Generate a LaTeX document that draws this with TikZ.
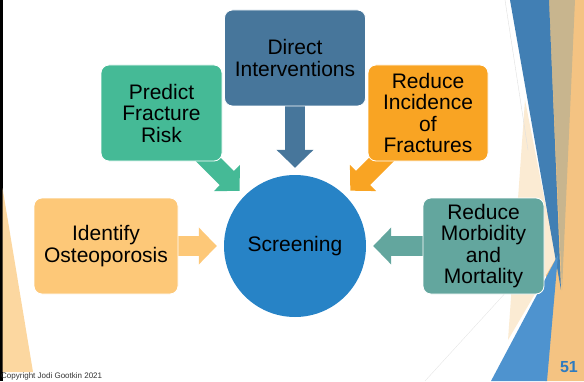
\documentclass[tikz,border=0pt]{standalone}
\usepackage{fontspec}
\setmainfont{Liberation Sans}
\usetikzlibrary{positioning, arrows.meta, backgrounds}

\definecolor{screenblue}{HTML}{2783C6}
\definecolor{dirblue}{HTML}{47769B}
\definecolor{predgreen}{HTML}{45BA96}
\definecolor{incorange}{HTML}{F9A423}
\definecolor{identorange}{HTML}{FDC878}
\definecolor{morbteal}{HTML}{63A69E}
\definecolor{copygray}{HTML}{333333}
\definecolor{pageblue}{HTML}{2E7BC0}
\definecolor{decoorange}{HTML}{F4C382}
\definecolor{decotan}{HTML}{C8B58E}
\definecolor{decobeige}{HTML}{FBEBD3}
\definecolor{decoblue}{HTML}{417FB4}
\definecolor{decolight}{HTML}{4E93CF}
\definecolor{leftorange}{HTML}{FCD7A0}

\begin{document}
\begin{tikzpicture}[x=1pt, y=1pt, on grid,
    box/.style={rectangle, rounded corners=8pt, draw=white, line width=0.8pt, fill=#1,
        minimum height=96pt, align=center, inner sep=2pt, font=\fontsize{21}{21.5}\selectfont},
    blockarrow/.style={line width=20pt, draw=#1, shorten >=7pt, -{Triangle[length=18pt, width=36pt]}}]

    \useasboundingbox (0,0) rectangle (584,381);

    % Slide decoration
    \fill[black] (0,0) rectangle (2.5,381);
    \fill[leftorange] (2.5,193) -- (33,9) -- (2.5,9) -- cycle;
    \fill[decoorange] (549,381) -- (584,381) -- (584,0) -- (545,0) -- cycle;
    \fill[decobeige] (525,281) -- (556,123) -- (508,41) -- cycle;
    \fill[decotan] (549,381) -- (575,381) -- (562,91) -- cycle;
    \fill[decoblue] (510,381) -- (549,381) -- (561,91) -- cycle;
    \fill[decolight] (491,0) -- (547,0) -- (558,126) -- cycle;
    \draw[gray!25, line width=0.4pt] (505,381) -- (528,231);
    \draw[gray!20, line width=0.4pt] (425,0) -- (540,126);

    % Nodes
    \node (screen) [circle, fill=screenblue, minimum size=142pt, font=\fontsize{21}{21.5}\selectfont] at (295,135) {Screening};
    \node (direct) [box=dirblue, minimum width=141pt, above=188pt of screen] {Direct\\Interventions};
    \node (predict) [box=predgreen, minimum width=121pt, above left=133pt and 133.5pt of screen] {Predict\\Fracture\\Risk};
    \node (incidence) [box=incorange, minimum width=120pt, above right=133pt and 133pt of screen] {Reduce\\Incidence\\of\\Fractures};
    \node (identify) [box=identorange, minimum width=144pt, left=189pt of screen] {Identify\\Osteoporosis};
    \node (morbidity) [box=morbteal, minimum width=121pt, right=188.5pt of screen] {Reduce\\Morbidity\\and\\Mortality};

    % Edges
    \begin{pgfonlayer}{background}
        \draw[blockarrow=dirblue] (direct.center) -- (screen);
        \draw[blockarrow=predgreen] (predict.center) -- (screen);
        \draw[blockarrow=incorange] (incidence.center) -- (screen);
        \draw[blockarrow=identorange] (identify.center) -- (screen);
        \draw[blockarrow=morbteal] (morbidity.center) -- (screen);
    \end{pgfonlayer}

    % Footer
    \node (copyright) [anchor=base west, inner sep=0pt, text=copygray, font=\fontsize{8}{9}\selectfont] at (1,3) {Copyright Jodi Gootkin 2021};
    \node (pagenum) [anchor=base east, inner sep=0pt, text=pageblue, font=\fontsize{16}{18}\selectfont\bfseries] at (578,9) {51};
\end{tikzpicture}
\end{document}
